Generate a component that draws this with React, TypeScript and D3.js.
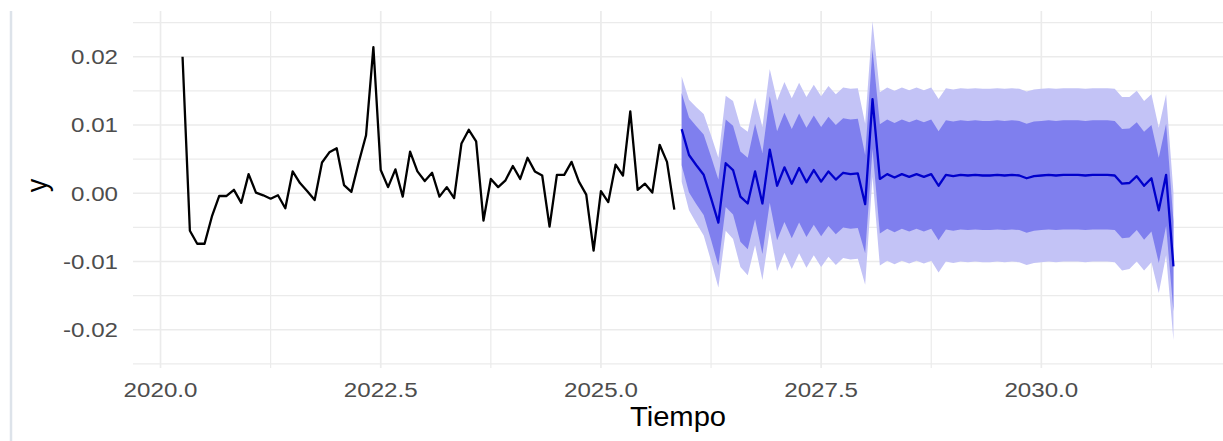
import React from 'react';
import * as d3 from 'd3';

// serie observada (mensual, desde abril 2020)
const histStart = 2020.25;
const histValues = [
  0.020, -0.0055, -0.0074, -0.0074, -0.0034, -0.0004, -0.0004, 0.0005, -0.0014, 0.0028,
  0.0001, -0.0003, -0.0008, -0.0003, -0.0022, 0.0032, 0.0015, 0.0003, -0.0010, 0.0045,
  0.0060, 0.0066, 0.0012, 0.0002, 0.0045, 0.0085, 0.0214, 0.0034, 0.0009, 0.0035,
  -0.0005, 0.0061, 0.0032, 0.0018, 0.0030, -0.0005, 0.0009, -0.0007, 0.0073, 0.0093,
  0.0076, -0.0040, 0.0021, 0.0009, 0.0019, 0.0040, 0.0021, 0.0052, 0.0032, 0.0026,
  -0.0049, 0.0027, 0.0027, 0.0046, 0.0017, -0.0002, -0.0084, 0.0003, -0.0013, 0.0042,
  0.0026, 0.0120, 0.0005, 0.0014, 0.0001, 0.0071, 0.0046, -0.0024,
];

// pronóstico (media) desde diciembre 2025
const fcStart = 2025 + 11 / 12;
const fcMean = [
  0.0094, 0.0056, 0.0041, 0.0027, -0.0007, -0.0043, 0.0044, 0.0034, -0.0005, -0.0015,
  0.0032, -0.0015, 0.0064, 0.0011, 0.0038, 0.0014, 0.0037, 0.0016, 0.0034, 0.0017,
  0.0032, 0.0020, 0.0030, 0.0028, 0.0029, -0.0016, 0.0138, 0.0021, 0.0028, 0.0023,
  0.0028, 0.0024, 0.0028, 0.0024, 0.0028, 0.0011, 0.0027, 0.0025, 0.0027, 0.0026,
  0.0027, 0.0026, 0.0026, 0.0027, 0.0026, 0.0027, 0.0026, 0.0022, 0.0025, 0.0026,
  0.0027, 0.0026, 0.0027, 0.0027, 0.0027, 0.0026, 0.0027, 0.0027, 0.0027, 0.0026,
  0.0014, 0.0015, 0.0025, 0.0011, 0.0022, -0.0025, 0.0027, -0.0107,
];

// semi-amplitud de los intervalos 80% y 95%
const half80 = [
  0.0053, 0.0055, 0.0057, 0.0059, 0.0061, 0.0063, 0.0064, 0.0065, 0.0066, 0.0067,
  0.0070, 0.0074, 0.0078, 0.0080, 0.0080, 0.0080, 0.0080, 0.0080, 0.0080, 0.0080,
  0.0080, 0.0080, 0.0080, 0.0080, 0.0080, 0.0072, 0.0073, 0.0080, 0.0080, 0.0080,
  0.0080, 0.0080, 0.0080, 0.0080, 0.0080, 0.0080, 0.0080, 0.0080, 0.0080, 0.0080,
  0.0080, 0.0080, 0.0080, 0.0080, 0.0080, 0.0080, 0.0080, 0.0080, 0.0080, 0.0080,
  0.0080, 0.0080, 0.0080, 0.0080, 0.0080, 0.0080, 0.0080, 0.0080, 0.0080, 0.0080,
  0.0080, 0.0080, 0.0079, 0.0079, 0.0078, 0.0077, 0.0075, 0.0066,
];
const half95 = [
  0.0077, 0.0081, 0.0085, 0.0089, 0.0092, 0.0095, 0.0099, 0.0101, 0.0103, 0.0105,
  0.0108, 0.0112, 0.0118, 0.0125, 0.0125, 0.0125, 0.0125, 0.0125, 0.0125, 0.0125,
  0.0125, 0.0125, 0.0125, 0.0125, 0.0125, 0.0118, 0.0114, 0.0127, 0.0127, 0.0127,
  0.0127, 0.0127, 0.0127, 0.0127, 0.0127, 0.0127, 0.0127, 0.0127, 0.0127, 0.0127,
  0.0127, 0.0127, 0.0127, 0.0127, 0.0127, 0.0127, 0.0127, 0.0127, 0.0127, 0.0127,
  0.0127, 0.0127, 0.0127, 0.0127, 0.0127, 0.0127, 0.0127, 0.0127, 0.0127, 0.0127,
  0.0127, 0.0126, 0.0125, 0.0124, 0.0123, 0.0121, 0.0118, 0.0108,
];

const xMajor = [2020, 2022.5, 2025, 2027.5, 2030];
const xMinor = [2021.25, 2023.75, 2026.25, 2028.75, 2031.25];
const xLabels = ['2020.0', '2022.5', '2025.0', '2027.5', '2030.0'];
const yMajor = [-0.02, -0.01, 0, 0.01, 0.02];
const yMinor = [-0.025, -0.015, -0.005, 0.005, 0.015, 0.025];
const yLabels = ['-0.02', '-0.01', '0.00', '0.01', '0.02'];

const W = 1223;
const H = 441;
const panel = { left: 133, right: 1223, top: 11, bottom: 368 };
const font = '"Liberation Sans", Arial, Helvetica, sans-serif';
const stretch = 1.15;

export default function App() {
  const x = d3.scaleLinear().domain([2019.6875, 2032.0625]).range([panel.left, panel.right]);
  const y = d3.scaleLinear().domain([-0.0256, 0.0267]).range([panel.bottom, panel.top]);

  const hist = histValues.map((v, i) => ({ t: histStart + i / 12, v }));
  const fc = fcMean.map((v, i) => ({
    t: fcStart + i / 12,
    v,
    lo80: v - half80[i],
    hi80: v + half80[i],
    lo95: v - half95[i],
    hi95: v + half95[i],
  }));

  const line = d3.line<{ t: number; v: number }>().x(d => x(d.t)).y(d => y(d.v));
  const area95 = d3.area<any>().x(d => x(d.t)).y0(d => y(d.lo95)).y1(d => y(d.hi95));
  const area80 = d3.area<any>().x(d => x(d.t)).y0(d => y(d.lo80)).y1(d => y(d.hi80));

  const grid = '#EBEBEB';

  return (
    <svg width={W} height={H} style={{ position: 'absolute', left: 0, top: 0, background: '#fff' }}>
      <line x1={11} x2={11} y1={11} y2={H} stroke="#DDE3EA" strokeWidth={2.5} />

      {/* rejilla */}
      {yMinor.map(v => (
        <line key={'ym' + v} x1={panel.left} x2={panel.right} y1={y(v)} y2={y(v)} stroke={grid} strokeWidth={1.2} />
      ))}
      {xMinor.map(v => (
        <line key={'xm' + v} x1={x(v)} x2={x(v)} y1={panel.top} y2={panel.bottom} stroke={grid} strokeWidth={1.2} />
      ))}
      {yMajor.map(v => (
        <line key={'yM' + v} x1={panel.left} x2={panel.right} y1={y(v)} y2={y(v)} stroke={grid} strokeWidth={1.7} />
      ))}
      {xMajor.map(v => (
        <line key={'xM' + v} x1={x(v)} x2={x(v)} y1={panel.top} y2={panel.bottom} stroke={grid} strokeWidth={1.7} />
      ))}

      {/* intervalos y pronóstico */}
      <path d={area95(fc) || ''} fill="#C3C3F6" />
      <path d={area80(fc) || ''} fill="#7F7FEE" />
      <path d={line(fc) || ''} fill="none" stroke="#0000CC" strokeWidth={2.3} strokeLinejoin="round" />
      <path d={line(hist) || ''} fill="none" stroke="#000" strokeWidth={2.3} strokeLinejoin="round" />

      {/* ejes */}
      {xMajor.map((v, i) => (
        <g key={'xl' + v} transform={`translate(${x(v)},397) scale(${stretch},1)`}>
          <text textAnchor="middle" fontFamily={font} fontSize={21} fill="#4D4D4D">{xLabels[i]}</text>
        </g>
      ))}
      {yMajor.map((v, i) => (
        <g key={'yl' + v} transform={`translate(118,${y(v) + 7.5}) scale(${stretch},1)`}>
          <text textAnchor="end" fontFamily={font} fontSize={21} fill="#4D4D4D">{yLabels[i]}</text>
        </g>
      ))}
      <g transform={`translate(${(panel.left + panel.right) / 2},426) scale(1.08,1)`}>
        <text textAnchor="middle" fontFamily={font} fontSize={27} fill="#000">Tiempo</text>
      </g>
      <g transform={`translate(47,${(panel.top + panel.bottom) / 2 - 4}) scale(1.1,1) rotate(-90)`}>
        <text textAnchor="middle" fontFamily={font} fontSize={27} fill="#000">y</text>
      </g>
    </svg>
  );
}
